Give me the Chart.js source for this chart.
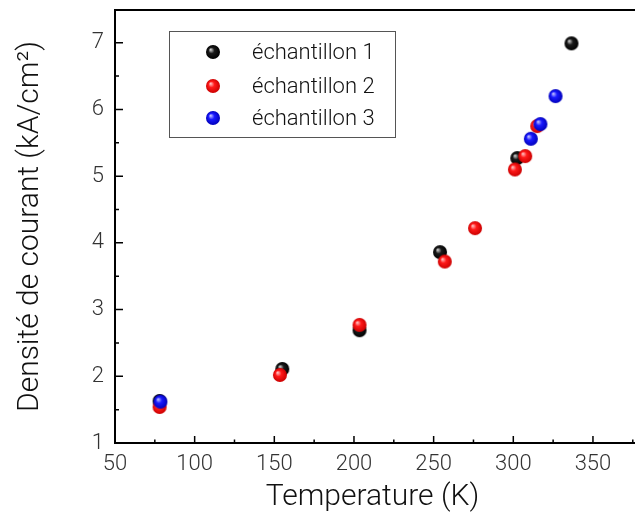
<!DOCTYPE html>
<html>
<head>
<meta charset="utf-8">
<script src="https://cdn.jsdelivr.net/npm/chart.js@4.4.0/dist/chart.umd.min.js"></script>
<style>
html, body { margin: 0; padding: 0; background: #fff; }
#wrap { width: 635px; height: 519px; }
</style>
</head>
<body>
<div id="wrap"><canvas id="chart"></canvas></div>
<script>
const sampleLabels = ['échantillon 1', 'échantillon 2', 'échantillon 3'];

const sample1Temp = [78, 155, 203.5, 254, 302.5, 336.5];
const sample1Current = [1.63, 2.11, 2.69, 3.86, 5.27, 6.99];

const sample2Temp = [78, 153.5, 203.5, 257, 276, 301, 307.5, 315];
const sample2Current = [1.54, 2.02, 2.77, 3.72, 4.22, 5.10, 5.30, 5.75];

const sample3Temp = [78.5, 311, 317, 326.5];
const sample3Current = [1.62, 5.56, 5.78, 6.20];

const xTicks = [50, 100, 150, 200, 250, 300, 350];
const yTicks = [1, 2, 3, 4, 5, 6, 7];

const FONT = "Roboto, 'Liberation Sans', Arial, sans-serif";

function sphere(light, base, dark, r) {
    const c = document.createElement('canvas');
    const s = r * 2 + 2;
    c.width = c.height = s;
    const g = c.getContext('2d');
    const grad = g.createRadialGradient(s / 2 - r * 0.35, s / 2 - r * 0.35, r * 0.05, s / 2, s / 2, r);
    grad.addColorStop(0, light);
    grad.addColorStop(0.4, base);
    grad.addColorStop(1, dark);
    g.fillStyle = grad;
    g.beginPath();
    g.arc(s / 2, s / 2, r, 0, Math.PI * 2);
    g.fill();
    return c;
}

const balls = [
    sphere('#d0d0d0', '#1a1a1a', '#000000', 7),
    sphere('#ffc0c0', '#ff1a1a', '#cc0000', 7),
    sphere('#c0c0ff', '#1a1aff', '#0000bb', 7)
];

function toPoints(xs, ys) {
    return xs.map((x, i) => ({ x: x, y: ys[i] }));
}

function noPad(s) {
    s.paddingTop = 0;
    s.paddingBottom = 0;
    s.paddingLeft = 0;
    s.paddingRight = 0;
}

// inward ticks, frame and the boxed legend
const framePlugin = {
    id: 'frame',
    afterDraw(chart) {
        const ctx = chart.ctx;
        const a = chart.chartArea;
        const xs = chart.scales.x;
        const ys = chart.scales.y;
        ctx.save();
        ctx.strokeStyle = '#000';
        ctx.lineWidth = 2;
        ctx.beginPath();
        ctx.moveTo(chart.width, a.top);
        ctx.lineTo(a.left, a.top);
        ctx.lineTo(a.left, a.bottom);
        ctx.lineTo(chart.width, a.bottom);
        ctx.stroke();

        ctx.lineWidth = 1.5;
        ctx.beginPath();
        xTicks.forEach(v => {
            const px = xs.getPixelForValue(v);
            ctx.moveTo(px, a.bottom);
            ctx.lineTo(px, a.bottom - 7);
            const pm = xs.getPixelForValue(v + 25);
            if (pm < chart.width) {
                ctx.moveTo(pm, a.bottom);
                ctx.lineTo(pm, a.bottom - 3.5);
            }
        });
        yTicks.forEach(v => {
            const py = ys.getPixelForValue(v);
            ctx.moveTo(a.left, py);
            ctx.lineTo(a.left + 8, py);
            const pm = ys.getPixelForValue(v + 0.5);
            if (pm > a.top) {
                ctx.moveTo(a.left, pm);
                ctx.lineTo(a.left + 4, pm);
            }
        });
        ctx.stroke();

        // legend box
        ctx.lineWidth = 1;
        ctx.strokeStyle = '#555';
        ctx.strokeRect(169.5, 31.5, 226, 106);
        ctx.font = '300 22px ' + FONT;
        ctx.fillStyle = '#111';
        ctx.textBaseline = 'middle';
        ctx.textAlign = 'left';
        const rows = [52, 86, 118];
        chart.data.datasets.forEach((ds, i) => {
            const img = balls[i];
            ctx.drawImage(img, 213 - img.width / 2, rows[i] - img.height / 2);
            ctx.fillText(ds.label, 252, rows[i] + 1);
        });
        ctx.restore();
    }
};

new Chart(document.getElementById('chart'), {
    type: 'scatter',
    data: {
        datasets: [
            { label: sampleLabels[0], data: toPoints(sample1Temp, sample1Current), pointStyle: balls[0], order: 3 },
            { label: sampleLabels[1], data: toPoints(sample2Temp, sample2Current), pointStyle: balls[1], order: 2 },
            { label: sampleLabels[2], data: toPoints(sample3Temp, sample3Current), pointStyle: balls[2], order: 1 }
        ]
    },
    options: {
        responsive: true,
        maintainAspectRatio: false,
        animation: false,
        layout: { padding: { top: 10, right: 0, left: 0, bottom: 0 } },
        plugins: {
            legend: { display: false },
            tooltip: { enabled: false }
        },
        scales: {
            x: {
                type: 'linear',
                min: 50,
                max: 373.25,
                afterFit: s => { s.height = 76; noPad(s); },
                grid: { display: false, drawTicks: false },
                border: { display: false },
                ticks: {
                    stepSize: 50,
                    includeBounds: false,
                    padding: 8,
                    color: '#333',
                    maxRotation: 0,
                    font: { family: FONT, size: 22, weight: '300' }
                },
                title: {
                    display: true,
                    text: 'Temperature (K)',
                    color: '#111',
                    padding: { top: 0, bottom: 4 },
                    font: { family: FONT, size: 30, weight: '300' }
                }
            },
            y: {
                type: 'linear',
                min: 1,
                max: 7.49,
                afterFit: s => { s.width = 115; noPad(s); },
                grid: { display: false, drawTicks: false },
                border: { display: false },
                ticks: {
                    stepSize: 1,
                    includeBounds: false,
                    padding: 11,
                    color: '#333',
                    font: { family: FONT, size: 22, weight: '300' }
                },
                title: {
                    display: true,
                    text: 'Densité de courant (kA/cm²)',
                    color: '#111',
                    padding: { top: 12, bottom: 0 },
                    font: { family: FONT, size: 30, weight: '300' }
                }
            }
        }
    },
    plugins: [framePlugin]
});
</script>
</body>
</html>
